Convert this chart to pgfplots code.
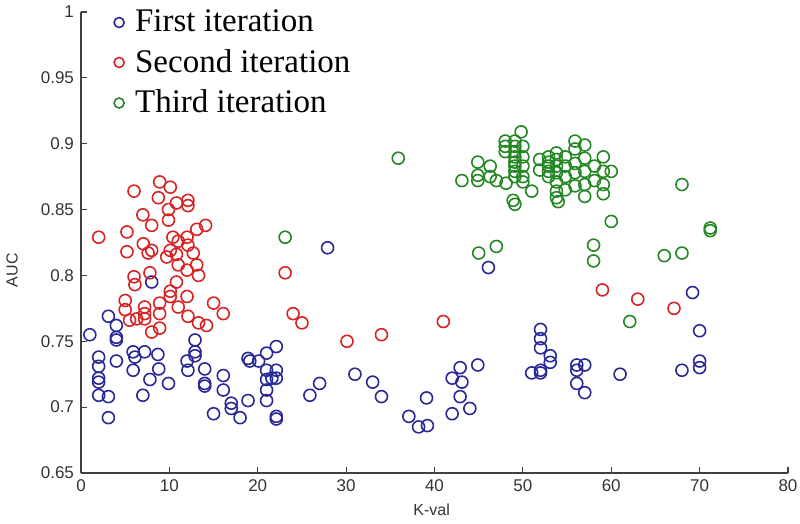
\documentclass[border=0pt]{standalone}
\usepackage{fontspec}
\setmainfont{Liberation Sans}
\newfontfamily\seriffont{Liberation Serif}
\usepackage{pgfplots}
\pgfplotsset{compat=1.18}
\definecolor{cblue}{RGB}{40,40,150}
\definecolor{cred}{RGB}{215,35,35}
\definecolor{cgreen}{RGB}{35,135,35}
\begin{document}
\begin{tikzpicture}
\begin{axis}[
  scale only axis, width=353.5pt, height=230.5pt,
  xmin=0, xmax=80, ymin=0.65, ymax=1,
  axis x line*=bottom, axis y line*=left,
  axis line style={-, line width=0.6pt, black!75},
  tick style={line width=0.6pt, black!75},
  tick align=inside, major tick length=3pt,
  xtick={0,10,...,80},
  ytick={0.65,0.7,0.75,0.8,0.85,0.9,0.95,1},
  yticklabels={0.65,0.7,0.75,0.8,0.85,0.9,0.95,1},
  /pgf/number format/assume math mode=true,
  ticklabel style={font=\fontsize{8.5}{10}\selectfont, text=black!80},
  xlabel={K-val}, ylabel={AUC},
  label style={font=\fontsize{8}{10}\selectfont, text=black!80},
  xlabel style={at={(axis description cs:0.496,0)}, anchor=center, yshift=-18.5pt},
  ylabel style={at={(axis description cs:-0.0976,0.44)}, anchor=center},
  legend cell align=left,
  legend style={draw=none, fill=none, at={(axis description cs:0.042,1.018)}, anchor=north west,
    font=\seriffont\fontsize{16.5}{19}\selectfont, row sep=3.3pt, inner sep=1pt},
  legend image code/.code={\draw[#1] (0pt,0pt) circle (2.5pt); \path[draw=none,fill=none] (-3pt,0pt) (6pt,0pt);},
  clip=false,
]
\addplot[only marks, mark=o, mark size=3pt, cblue, line width=0.8pt] coordinates {
(1,0.755)(3.1,0.769)(4,0.762)(4,0.753)(4,0.751)(2,0.738)(2,0.731)(2,0.722)(2,0.719)(2,0.709)
(3.1,0.708)(3.1,0.692)(4,0.735)(5.9,0.742)(6.1,0.738)(7.2,0.742)(5.9,0.728)(7,0.709)(7.8,0.721)
(8.7,0.740)(8.8,0.729)(9.9,0.718)(12,0.735)(12.1,0.728)(12.9,0.751)(12.9,0.742)(12.9,0.739)
(14,0.729)(14,0.718)(14,0.716)(15,0.695)(16.1,0.724)(16.1,0.713)(17,0.703)(17,0.699)(18,0.692)
(18.9,0.705)(18.9,0.737)(19.1,0.735)(20.1,0.735)(21,0.741)(22.1,0.746)(21,0.728)(21,0.721)
(21,0.713)(21,0.705)(22.1,0.728)(22.1,0.722)(21.6,0.722)(22.1,0.693)(22.1,0.691)(25.9,0.709)
(27,0.718)(8,0.795)(27.9,0.821)(46.1,0.806)(31,0.725)(33,0.719)(34,0.708)(37.1,0.693)
(38.2,0.685)(39.2,0.686)(39.1,0.707)(42,0.695)(44,0.699)(42,0.722)(42.9,0.730)(43.1,0.719)
(42.9,0.708)(44.9,0.732)(52,0.759)(52,0.752)(52,0.745)(53.1,0.739)(53.1,0.734)(52,0.728)
(52,0.726)(51,0.726)(56.1,0.732)(56.1,0.728)(57,0.732)(56.1,0.718)(57,0.711)(61,0.725)
(68,0.728)(70,0.735)(70,0.730)(70,0.758)(69.2,0.787)
};
\addlegendentry{First iteration}
\addplot[only marks, mark=o, mark size=3pt, cred, line width=0.8pt] coordinates {
(2,0.829)(6,0.864)(8.9,0.871)(10.1,0.867)(8.75,0.859)(10.8,0.855)(12.1,0.857)(12.1,0.853)
(9.9,0.850)(7,0.846)(9.9,0.842)(14.1,0.838)(5.2,0.833)(8,0.838)(13.1,0.835)(10.4,0.829)
(12,0.829)(11,0.826)(12.1,0.823)(7.05,0.824)(5.2,0.818)(8,0.819)(10.1,0.819)(9.7,0.814)
(10.8,0.816)(12.7,0.817)(7.6,0.817)(11,0.808)(13.1,0.808)(12,0.804)(7.8,0.802)(13.3,0.800)
(6,0.799)(6.1,0.793)(10.8,0.795)(10.1,0.788)(10.1,0.784)(12,0.784)(5,0.781)(8.9,0.779)
(11,0.776)(15,0.779)(16.1,0.771)(5,0.774)(7.2,0.776)(7.2,0.771)(7.2,0.767)(6.3,0.767)
(8.9,0.771)(12.1,0.769)(13.3,0.764)(14.2,0.762)(8,0.757)(8.9,0.760)(5.5,0.766)
(23.1,0.802)(24,0.771)(25,0.764)(30.1,0.750)(34,0.755)(41,0.765)(59,0.789)(63,0.782)(67.1,0.775)
};
\addlegendentry{Second iteration}
\addplot[only marks, mark=o, mark size=3pt, cgreen, line width=0.8pt] coordinates {
(35.9,0.889)(23.1,0.829)(45,0.817)(47,0.822)(49.1,0.854)(54,0.856)(60,0.841)(71.2,0.836)
(71.2,0.834)(58,0.823)(58,0.811)(66,0.815)(68,0.817)(62.1,0.765)(68,0.869)
(49.8,0.909)(48,0.902)(48,0.898)(48,0.894)(49.1,0.902)(49.1,0.898)(49.1,0.894)(49.1,0.890)
(49.1,0.886)(49.1,0.883)(49.1,0.879)(49.1,0.875)(50,0.898)(50,0.890)(50,0.883)(50,0.875)
(50,0.871)(44.9,0.886)(44.9,0.876)(44.9,0.872)(46.3,0.883)(46.3,0.875)(43.1,0.872)(47,0.872)
(48.1,0.870)(48.9,0.857)(51,0.864)(51.9,0.888)(51.9,0.880)(52.9,0.890)(52.9,0.886)(52.9,0.883)
(52.9,0.879)(52.9,0.875)(53.8,0.893)(53.8,0.888)(53.8,0.883)(53.8,0.878)(53.8,0.871)(53.8,0.864)
(53.8,0.859)(54.8,0.890)(54.8,0.883)(54.8,0.875)(54.8,0.865)(55.9,0.902)(55.9,0.896)(55.9,0.885)
(55.9,0.878)(55.9,0.868)(57,0.899)(57,0.889)(57,0.879)(57,0.869)(57,0.860)(58.1,0.883)
(58.1,0.872)(59.1,0.890)(59.1,0.879)(59.1,0.869)(59.1,0.862)(60,0.879)
};
\addlegendentry{Third iteration}
\end{axis}
\path (current axis.south west) ++(-40.5pt,-25pt) coordinate (bbA);
\path (current axis.north east) ++(6pt,6pt) coordinate (bbB);
\pgfresetboundingbox
\path[use as bounding box] (bbA) rectangle (bbB);
\end{tikzpicture}
\end{document}
